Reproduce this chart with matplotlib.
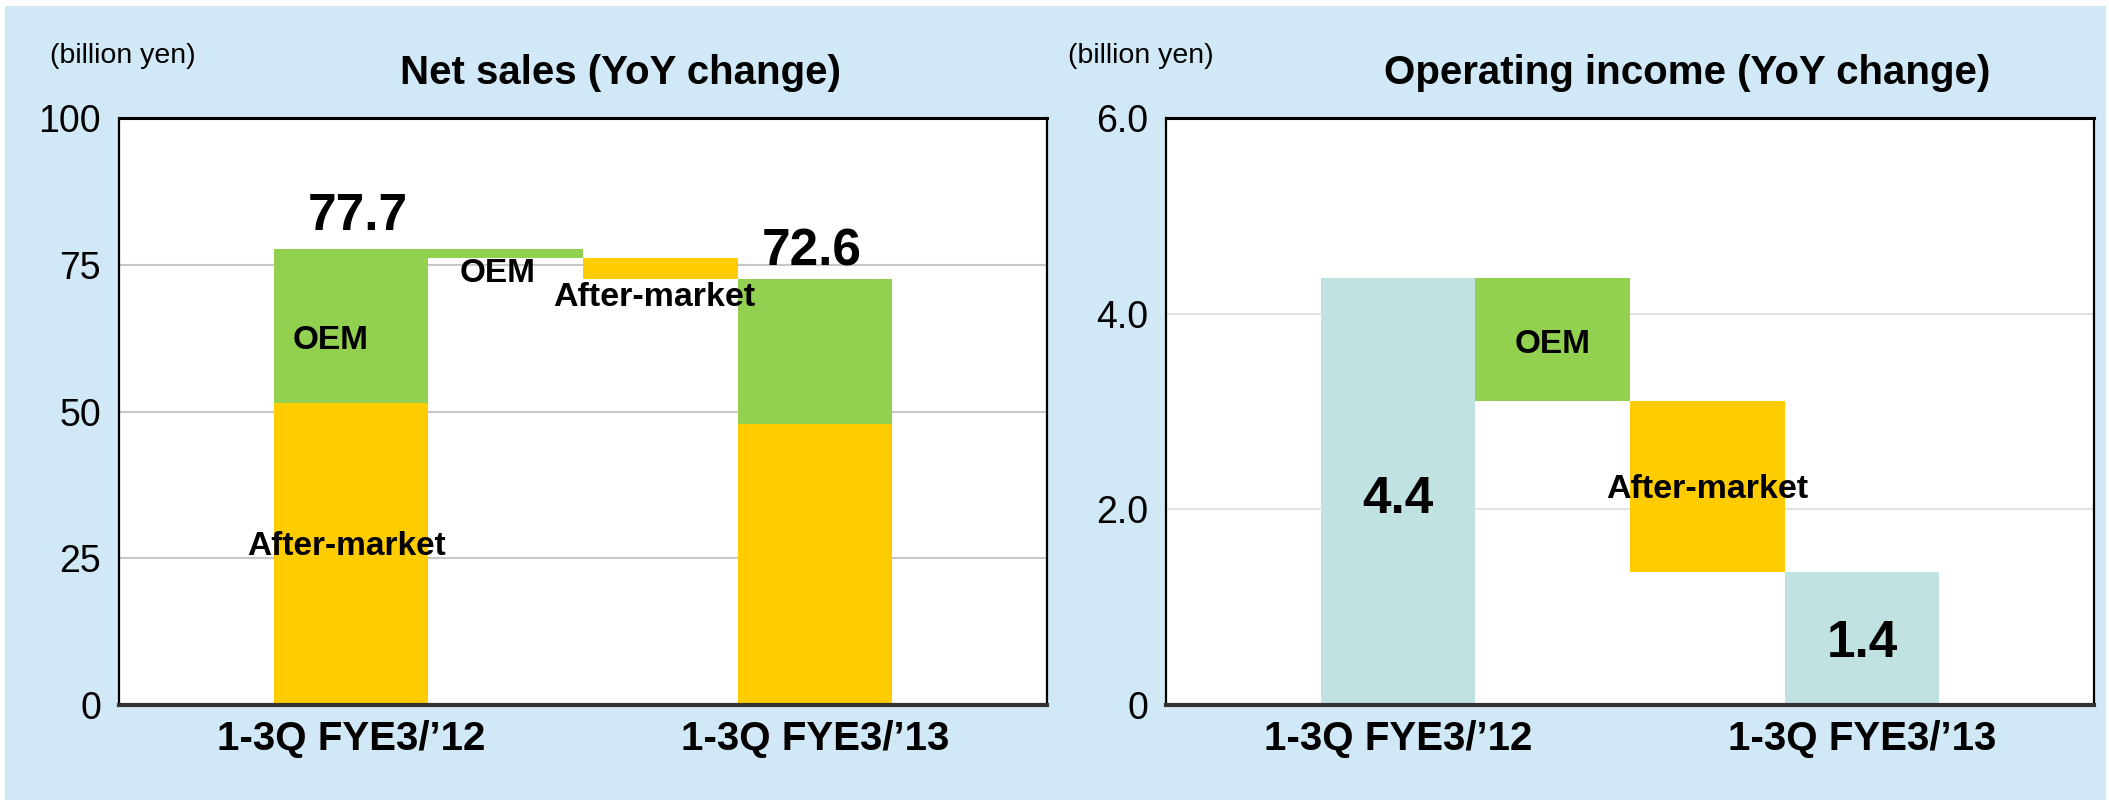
import matplotlib
matplotlib.use("Agg")
import matplotlib.pyplot as plt
from matplotlib.patches import Rectangle

plt.rcParams['font.family'] = ['Liberation Sans', 'DejaVu Sans']

# ---- data ----
categories = ["1-3Q FYE3/\u201912", "1-3Q FYE3/\u201913"]
sales_after = [51.4, 47.8]
sales_oem = [26.3, 24.8]
sales_total = [77.7, 72.6]
sales_steps = [-1.6, -3.5]          # OEM, After-market
step_names = ["OEM", "After-market"]

income_total = [4.36, 1.36]
income_labels = ["4.4", "1.4"]
income_steps = [-1.25, -1.75]       # OEM, After-market

sales_yticks = [0, 25, 50, 75, 100]
income_yticks = [0, 2.0, 4.0, 6.0]
income_yticklabels = ["0", "2.0", "4.0", "6.0"]

GREEN = "#92D050"
YELLOW = "#FFCC00"
TEAL = "#C0E2E1"
BG = "#D1E8F6"

W, H = 2109, 800
fig = plt.figure(figsize=(W / 100, H / 100), dpi=100)
fig.patches.append(Rectangle((5 / W, 0), (2106 - 5) / W, (800 - 6) / H,
                             transform=fig.transFigure, facecolor=BG,
                             edgecolor='none', zorder=-10))

ax1 = fig.add_axes([119 / W, 1 - 705 / H, 928 / W, 587 / H])
ax2 = fig.add_axes([1166 / W, 1 - 705 / H, 928 / W, 587 / H])

x_cat = [1.5, 4.5]
x_steps = [2.5, 3.5]


def style(ax, grid_color):
    ax.set_xlim(0, 6)
    ax.set_facecolor("white")
    for s in ['left', 'right', 'top']:
        ax.spines[s].set_color('black')
        ax.spines[s].set_linewidth(1.6)
    ax.spines['top'].set_linewidth(2.2)
    ax.spines['bottom'].set_color('#333333')
    ax.spines['bottom'].set_linewidth(3)
    ax.tick_params(axis='both', length=0)
    ax.tick_params(axis='y', labelsize=27, pad=13)
    ax.tick_params(axis='x', labelsize=29, pad=11)
    ax.yaxis.grid(True, color=grid_color, linewidth=1.5)
    ax.set_axisbelow(True)
    ax.set_xticks(x_cat)
    ax.set_xticklabels(categories, fontweight='bold')


# ---- Net sales ----
style(ax1, "#C8C8C8")
ax1.set_ylim(0, 100)
ax1.set_yticks(sales_yticks)
ax1.set_yticklabels([str(v) for v in sales_yticks])
ax1.bar(x_cat, sales_after, width=1.0, color=YELLOW, zorder=2)
ax1.bar(x_cat, sales_oem, width=1.0, bottom=sales_after, color=GREEN, zorder=2)
level = sales_total[0]
for xs, d, c in zip(x_steps, sales_steps, [GREEN, YELLOW]):
    ax1.bar(xs, -d, width=1.0, bottom=level + d, color=c, zorder=2)
    level += d

ax1.text(1.545, 83.3, f"{sales_total[0]}", ha='center', va='center',
         fontsize=37, fontweight='bold')
ax1.text(4.48, 77.2, f"{sales_total[1]}", ha='center', va='center',
         fontsize=37, fontweight='bold')
ax1.text(1.37, 62.1, "OEM", ha='center', va='center', fontsize=24, fontweight='bold')
ax1.text(1.47, 27.0, "After-market", ha='center', va='center', fontsize=24, fontweight='bold')
ax1.text(2.45, 73.5, step_names[0], ha='center', va='center', fontsize=24, fontweight='bold')
ax1.text(3.46, 69.4, step_names[1], ha='center', va='center', fontsize=24.5, fontweight='bold')

fig.text(621 / W, 1 - 73 / H, "Net sales (YoY change)", ha='center', va='center',
         fontsize=29, fontweight='bold')
fig.text(50 / W, 1 - 56 / H, "(billion yen)", ha='left', va='center', fontsize=20.5)

# ---- Operating income ----
style(ax2, "#E2E2E2")
ax2.set_ylim(0, 6)
ax2.set_yticks(income_yticks)
ax2.set_yticklabels(income_yticklabels)
ax2.bar(x_cat, income_total, width=1.0, color=TEAL, zorder=2)
level = income_total[0]
for xs, d, c in zip(x_steps, income_steps, [GREEN, YELLOW]):
    ax2.bar(xs, -d, width=1.0, bottom=level + d, color=c, zorder=2)
    level += d

ax2.text(1.5, 2.1, income_labels[0], ha='center', va='center', fontsize=37, fontweight='bold')
ax2.text(4.5, 0.63, income_labels[1], ha='center', va='center', fontsize=37, fontweight='bold')
ax2.text(2.5, 3.68, step_names[0], ha='center', va='center', fontsize=24, fontweight='bold', zorder=3)
ax2.text(3.5, 2.2, step_names[1], ha='center', va='center', fontsize=24.5, fontweight='bold', zorder=3)

fig.text(1687 / W, 1 - 73 / H, "Operating income (YoY change)", ha='center', va='center',
         fontsize=29, fontweight='bold')
fig.text(1068 / W, 1 - 56 / H, "(billion yen)", ha='left', va='center', fontsize=20.5)

fig.savefig("out.png", dpi=100)
